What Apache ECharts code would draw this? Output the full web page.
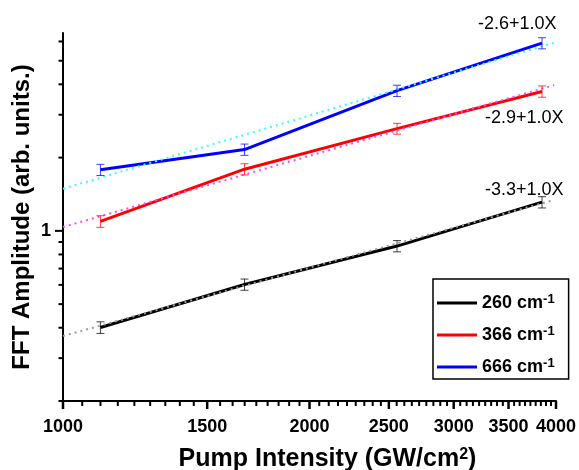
<!DOCTYPE html>
<html>
<head>
<meta charset="utf-8">
<script src="https://cdn.jsdelivr.net/npm/echarts@6/dist/echarts.min.js"></script>
<style>
    html, body { margin: 0; padding: 0; background: #fff; }
    #chart { width: 579px; height: 470px; }
</style>
</head>
<body>
<div id="chart"></div>
<script>
// 数据
var pumpIntensity = [1111, 1666, 2558, 3846];
var amp260 = [0.401, 0.602, 0.866, 1.312];
var amp366 = [1.094, 1.792, 2.63, 3.74];
var amp666 = [1.782, 2.158, 3.766, 5.905];
var err260 = [0.022, 0.032, 0.046, 0.07];
var err366 = [0.06, 0.095, 0.135, 0.2];
var err666 = [0.094, 0.115, 0.2, 0.31];
// 拟合线 (log-log, 斜率 1.0)
var fitX = [1000, 3980];
var fit260 = [0.37, 1.34];
var fit366 = [1.037, 3.97];
var fit666 = [1.489, 5.93];
var fitText = ['-3.3+1.0X', '-2.9+1.0X', '-2.6+1.0X'];
var modeNames = ['260', '366', '666'];
// 刻度
var xTicks = [1000, 1500, 2000, 2500, 3000, 3500, 4000];
var yTicks = [1];
var yMinorTicks = [0.2, 0.3, 0.4, 0.5, 0.6, 0.7, 0.8, 0.9, 2, 3, 4, 5, 6];

var X_MIN = 1000, X_MAX = 4000, Y_MIN = 0.2, Y_MAX = 6.5;
var FONT = '"Liberation Sans", Arial, sans-serif';

function zip(xs, ys) {
    return xs.map(function (x, i) { return [x, ys[i]]; });
}

// x 轴次刻度: 每个主刻度间 8 个
var xMinorTicks = [];
xTicks.forEach(function (v, i) {
    if (i < xTicks.length - 1) {
        for (var k = 1; k <= 8; k++) {
            xMinorTicks.push(v + (xTicks[i + 1] - v) * k / 9);
        }
    }
});

function errorBar(color, errs, ys) {
    return {
        type: 'custom',
        silent: true,
        z: 4,
        data: pumpIntensity.map(function (x, i) { return [x, ys[i], errs[i]]; }),
        encode: { x: 0, y: 1 },
        renderItem: function (params, api) {
            var x = api.value(0), y = api.value(1), e = api.value(2);
            var top = api.coord([x, y + e]);
            var bot = api.coord([x, y - e]);
            var w = 4;
            var st = { stroke: color, lineWidth: 1, opacity: 0.75 };
            return {
                type: 'group',
                children: [
                    { type: 'line', shape: { x1: top[0], y1: top[1], x2: bot[0], y2: bot[1] }, style: st },
                    { type: 'line', shape: { x1: top[0] - w, y1: top[1], x2: top[0] + w, y2: top[1] }, style: st },
                    { type: 'line', shape: { x1: bot[0] - w, y1: bot[1], x2: bot[0] + w, y2: bot[1] }, style: st }
                ]
            };
        }
    };
}

function dataLine(name, ys, color) {
    return {
        name: name,
        type: 'line',
        data: zip(pumpIntensity, ys),
        symbol: 'none',
        z: 2,
        lineStyle: { color: color, width: 3 },
        itemStyle: { color: color }
    };
}

function fitLine(ys, color) {
    return {
        type: 'line',
        data: zip(fitX, ys),
        symbol: 'none',
        silent: true,
        z: 3,
        lineStyle: { color: color, width: 2, type: [2, 4] }
    };
}

var myChart = echarts.init(document.getElementById('chart'));
var option = {
    animation: false,
    backgroundColor: '#fff',
    grid: { left: 63, right: 23, top: 33, bottom: 69, outerBoundsMode: 'none' },
    legend: {
        data: modeNames,
        orient: 'vertical',
        left: 433,
        top: 279,
        itemWidth: 40,
        itemHeight: 3,
        itemGap: 13,
        icon: 'rect',
        padding: [14, 14, 3, 4],
        borderColor: '#000',
        borderWidth: 1.5,
        formatter: function (name) {
            return '{a|' + name + ' cm}{s|-1}';
        },
        textStyle: {
            rich: {
                a: { fontFamily: FONT, fontWeight: 'bold', fontSize: 18, lineHeight: 20, color: '#000' },
                s: { fontFamily: FONT, fontWeight: 'bold', fontSize: 13, lineHeight: 12, verticalAlign: 'top', color: '#000' }
            }
        }
    },
    xAxis: {
        type: 'log',
        logBase: 10,
        min: X_MIN,
        max: X_MAX,
        axisLine: { lineStyle: { color: '#000', width: 2 } },
        axisTick: { show: false },
        axisLabel: { show: false },
        splitLine: { show: false },
        name: 'Pump Intensity (GW/cm{sup|2})',
        nameLocation: 'middle',
        nameGap: 46,
        nameTextStyle: {
            fontFamily: FONT,
            fontWeight: 'bold',
            fontSize: 25,
            lineHeight: 24,
            color: '#000',
            padding: [0, 0, 0, 36],
            rich: {
                sup: { fontFamily: FONT, fontWeight: 'bold', fontSize: 16, lineHeight: 14, verticalAlign: 'top', color: '#000' }
            }
        }
    },
    yAxis: {
        type: 'log',
        logBase: 10,
        min: Y_MIN,
        max: Y_MAX,
        axisLine: { show: true, lineStyle: { color: '#000', width: 2 } },
        axisTick: { show: false },
        axisLabel: { show: false },
        splitLine: { show: false },
        name: 'FFT Amplitude (arb. units.)',
        nameLocation: 'middle',
        nameRotate: 90,
        nameGap: 29,
        nameTextStyle: { fontFamily: FONT, fontWeight: 'bold', fontSize: 24, color: '#000' }
    },
    series: [
        dataLine(modeNames[0], amp260, '#000000'),
        dataLine(modeNames[1], amp366, '#ff0000'),
        dataLine(modeNames[2], amp666, '#0000ff'),
        fitLine(fit260, '#9a9a9a'),
        fitLine(fit366, '#ff44ff'),
        fitLine(fit666, '#33ffff'),
        errorBar('#000000', err260, amp260),
        errorBar('#ff0000', err366, amp366),
        errorBar('#0000ff', err666, amp666)
    ]
};
myChart.setOption(option);

// 刻度和刻度标签: 用坐标轴换算位置后画在 graphic 里
function toPx(x, y) {
    return myChart.convertToPixel({ xAxisIndex: 0, yAxisIndex: 0 }, [x, y]);
}
var graphics = [];
function addLine(x1, y1, x2, y2, w) {
    graphics.push({
        type: 'line', z: 100,
        shape: { x1: x1, y1: y1, x2: x2, y2: y2 },
        style: { stroke: '#000', lineWidth: w }
    });
}
function addText(text, x, y, size, bold) {
    graphics.push({
        type: 'text', z: 100, x: x, y: y,
        style: {
            text: text, fontFamily: FONT, fontSize: size, fontWeight: bold ? 'bold' : 'normal',
            fill: '#000', align: 'center', verticalAlign: 'middle'
        }
    });
}
xTicks.forEach(function (v) {
    var p = toPx(v, Y_MIN);
    addLine(p[0], p[1], p[0], p[1] + 8, 2.5);
    addText(String(v), p[0], p[1] + 26, 18, true);
});
xMinorTicks.forEach(function (v) {
    var p = toPx(v, Y_MIN);
    addLine(p[0], p[1], p[0], p[1] + 5, 2);
});
yTicks.forEach(function (v) {
    var p = toPx(X_MIN, v);
    addLine(p[0] - 8, p[1], p[0], p[1], 2);
    addText(String(v), p[0] - 17, p[1], 18, true);
});
yMinorTicks.forEach(function (v) {
    var p = toPx(X_MIN, v);
    addLine(p[0] - 4.5, p[1], p[0], p[1], 2);
});
// 拟合公式
var fitEnds = [[fitX[1], fit260[1]], [fitX[1], fit366[1]], [fitX[1], fit666[1]]];
var fitOffsets = [[-30, -10], [-30, 33], [-37, -19]];
fitEnds.forEach(function (e, i) {
    var p = toPx(e[0], e[1]);
    addText(fitText[i], p[0] + fitOffsets[i][0], p[1] + fitOffsets[i][1], 18, false);
});
myChart.setOption({ graphic: graphics });
</script>
</body>
</html>
